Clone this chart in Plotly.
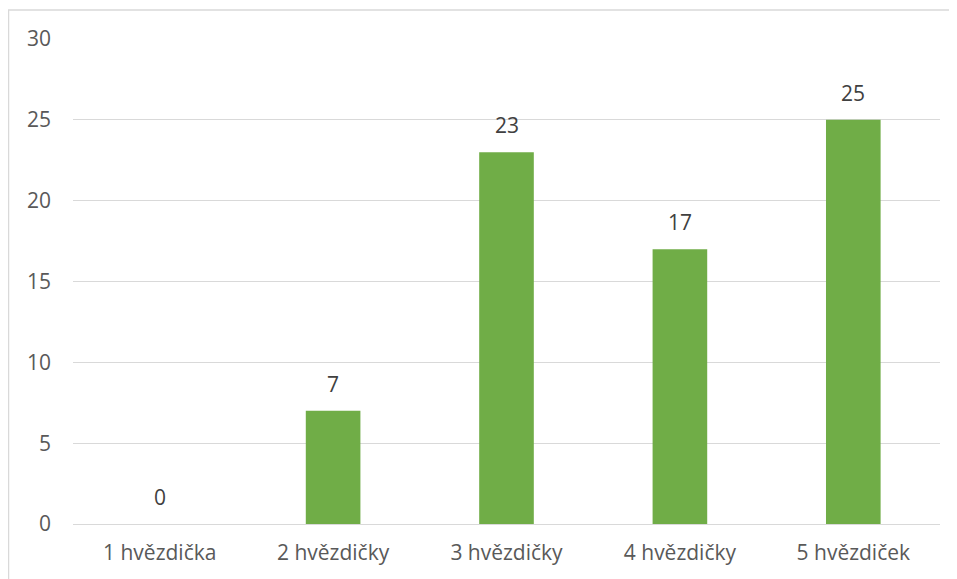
import plotly.graph_objects as go

categories = ["1 hvězdička", "2 hvězdičky", "3 hvězdičky", "4 hvězdičky", "5 hvězdiček"]
values = [0, 7, 23, 17, 25]
y_ticks = [0, 5, 10, 15, 20, 25, 30]

FONT = "Open Sans, sans-serif"
FS = 21

fig = go.Figure(
    go.Bar(
        x=categories,
        y=values,
        marker=dict(color="#70AD47", line=dict(width=0)),
        hoverinfo="x+y",
    )
)

annotations = [
    dict(x=c, y=v, xref="x", yref="y", text=str(v), showarrow=False,
         yanchor="bottom", yshift=11,
         font=dict(family=FONT, size=FS, color="#404040"))
    for c, v in zip(categories, values)
]

# page body has an 8px margin; size the figure to fill the rest
fig.update_layout(
    width=949,
    height=571,
    margin=dict(l=65, r=17, t=31, b=55),
    paper_bgcolor="white",
    plot_bgcolor="white",
    bargap=0.685,
    showlegend=False,
    font=dict(family=FONT, size=FS, color="#595959"),
    annotations=annotations,
    shapes=[
        dict(type="rect", xref="paper", yref="paper",
             x0=-64.5 / 867, x1=1.2, y0=-0.2, y1=1 + 29 / 485,
             line=dict(color="#D9D9D9", width=1.5), fillcolor="rgba(0,0,0,0)",
             layer="below"),
    ],
)

fig.update_xaxes(
    showgrid=False,
    showline=False,
    zeroline=False,
    ticks="",
    ticklabelstandoff=14,
    tickfont=dict(family=FONT, size=FS, color="#595959"),
)
fig.update_yaxes(
    range=[0, 30],
    tickvals=y_ticks,
    showgrid=True,
    gridcolor="#D9D9D9",
    gridwidth=1,
    zeroline=True,
    zerolinecolor="#D9D9D9",
    zerolinewidth=1,
    showline=False,
    ticks="",
    ticklabelstandoff=21,
    tickfont=dict(family=FONT, size=FS, color="#595959"),
)

fig.write_html("out.html")
